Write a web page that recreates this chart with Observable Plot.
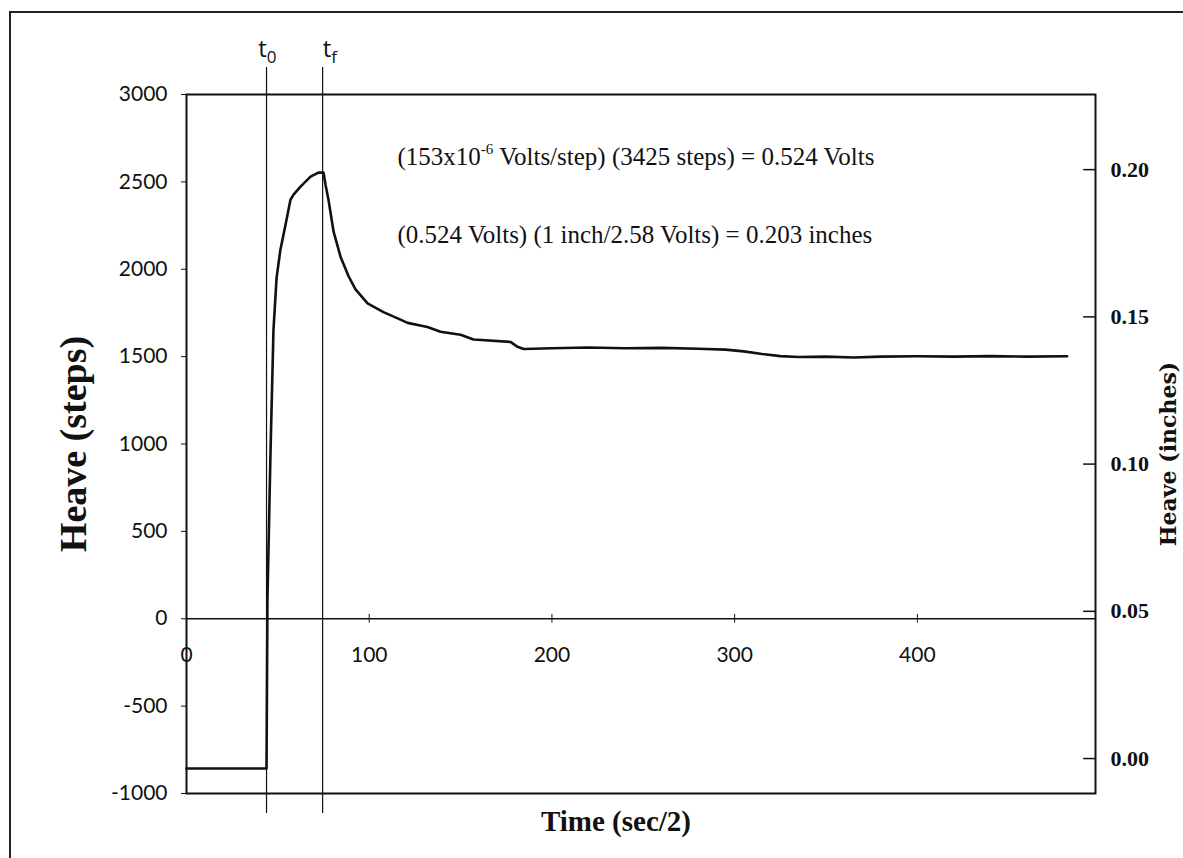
<!DOCTYPE html>
<html><head><meta charset="utf-8">
<script src="https://cdn.jsdelivr.net/npm/d3@7"></script>
<script src="https://cdn.jsdelivr.net/npm/@observablehq/plot@0.6"></script>
<style>
html,body{margin:0;padding:0;background:#fff;}
#wrap{position:relative;width:1183px;height:858px;overflow:hidden;background:#fff;}
#chart{position:absolute;left:0;top:0;}
#border{position:absolute;left:9px;top:11px;width:1400px;height:1000px;border-left:2px solid #222;border-top:2px solid #222;pointer-events:none;z-index:2;}
</style></head><body>
<div id="wrap"><div id="chart"></div><div id="border"></div></div>
<script>
// Time (sec/2)
const timeValues = [0, 43.8, 44.3, 46.0, 47.6, 49.3, 51.4, 54.2, 56.9, 58.6, 62.4, 67.9, 72.2, 75.0, 76.1, 77.7, 80.5, 84.3, 88.7, 92.5, 99.1, 107.8, 117.1, 121.0, 131.9, 139.0, 150.0, 157.1, 177.3, 181.2, 184.5, 200, 220, 240, 260, 280, 295, 305, 315, 325, 335, 350, 365, 380, 400, 420, 440, 460, 482];
// Heave (steps)
const heaveSteps = [-857, -857, 106, 965, 1653, 1951, 2112, 2255, 2398, 2427, 2473, 2530, 2553, 2553, 2484, 2398, 2215, 2072, 1960, 1885, 1805, 1755, 1712, 1693, 1670, 1642, 1625, 1598, 1584, 1556, 1544, 1548, 1552, 1548, 1550, 1545, 1540, 1530, 1515, 1503, 1498, 1500, 1495, 1500, 1502, 1500, 1503, 1500, 1502];

const yTicks = [-1000, -500, 0, 500, 1000, 1500, 2000, 2500, 3000];
const xTickValues = [100, 200, 300, 400];
const xTickLabels = [0, 100, 200, 300, 400];
const inchTicks = [0.00, 0.05, 0.10, 0.15, 0.20];
const markerTimes = [43.8, 74.5];          // t0, tf
const markerLabels = ["t0", "tf"];
const notes = [
  "(153x10^-6 Volts/step) (3425 steps) = 0.524 Volts",
  "(0.524 Volts) (1 inch/2.58 Volts) = 0.203 inches"
];
const xTitle = "Time (sec/2)";
const yTitle = "Heave (steps)";
const y2Title = "Heave (inches)";

// conversion used by the right-hand axis
const stepsAtZeroInch = -800, stepsPerInch = 16850;
const inchToSteps = v => stepsAtZeroInch + v * stepsPerInch;
const stepsToInch = s => (s - stepsAtZeroInch) / stepsPerInch;

const data = timeValues.map((t, i) => ({t, h: heaveSteps[i]}));
const xMax = 497.5;

const chart = Plot.plot({
  width: 1183, height: 858,
  marginLeft: 186, marginRight: 88, marginTop: 94, marginBottom: 65,
  style: {background: "transparent", color: "#111"},
  x: {domain: [0, xMax], axis: null},
  y: {domain: [-1000, 3000]},
  marks: [
    Plot.frame({stroke: "#111", strokeWidth: 2}),
    Plot.ruleY([0], {stroke: "#111", strokeWidth: 1.6}),
    Plot.ruleX(xTickValues, {y1: -25, y2: 25, stroke: "#111", strokeWidth: 1}),
    Plot.text(xTickLabels, {x: d => d, y: 0, dy: 37, text: d => String(d), fontSize: 21, fontFamily: "Lato", fill: "#111"}),
    Plot.axisY({ticks: yTicks, tickFormat: d => String(d), tickSize: 5, tickPadding: 14, fontSize: 21, fontFamily: "Lato", label: null, stroke: "#111", fill: "#111"}),
    Plot.axisY({anchor: "right", ticks: inchTicks.map(inchToSteps), tickFormat: d => stepsToInch(d).toFixed(2), tickSize: 0, tickPadding: 15, fontSize: 22, fontFamily: "Liberation Serif", fontWeight: "bold", label: null, fill: "#111"}),
    Plot.ruleY(inchTicks.map(inchToSteps), {x1: xMax - 6.5, x2: xMax, stroke: "#111", strokeWidth: 1.5}),
    Plot.ruleX(markerTimes, {y1: -1115, y2: 3155, stroke: "#111", strokeWidth: 1.2}),
    Plot.text(markerLabels, {x: (d, i) => i ? 78.5 : 44.3, y: 3258, text: d => d, fontSize: 24, fontFamily: "Open Sans", fill: "#111"}),
    Plot.line(data, {x: "t", y: "h", stroke: "#111", strokeWidth: 2.6}),
    Plot.text(notes, {x: 115.5, y: (d, i) => i ? 2198 : 2645, text: d => d, textAnchor: "start", fontSize: 25, fontFamily: "Liberation Serif", fill: "#111"}),
    Plot.text([yTitle], {frameAnchor: "left", dx: -113, rotate: -90, textAnchor: "middle", text: d => d, fontSize: 38, fontFamily: "Liberation Serif", fontWeight: "bold", fill: "#111"}),
    Plot.text([xTitle], {frameAnchor: "bottom", dx: -25, dy: 37, textAnchor: "middle", text: d => d, fontSize: 29, fontFamily: "Liberation Serif", fontWeight: "bold", fill: "#111"}),
    Plot.text([y2Title], {frameAnchor: "right", dx: 73, dy: 10, rotate: -90, textAnchor: "middle", text: d => d, fontSize: 22, fontFamily: "DejaVu Serif", fontWeight: "bold", fill: "#111"})
  ]
});

// rich text: superscript / subscripts
const NS = "http://www.w3.org/2000/svg";
function rich(el, parts) {
  el.textContent = "";
  for (const p of parts) {
    const ts = document.createElementNS(NS, "tspan");
    ts.textContent = p.t;
    if (p.dy) ts.setAttribute("dy", p.dy);
    if (p.fs) ts.setAttribute("font-size", p.fs);
    el.appendChild(ts);
  }
}
chart.querySelectorAll("text").forEach(el => {
  const s = el.textContent;
  if (s.includes("^-6")) {
    const [a, b] = s.split("^-6");
    rich(el, [{t: a}, {t: "-6", dy: -11, fs: 15}, {t: b, dy: 11}]);
  } else if (s === "t0") {
    rich(el, [{t: "t"}, {t: "0", dy: 6, fs: 17}]);
  } else if (s === "tf") {
    rich(el, [{t: "t"}, {t: "f", dy: 6, fs: 17}]);
  }
});
document.getElementById("chart").appendChild(chart);
</script>
</body></html>
